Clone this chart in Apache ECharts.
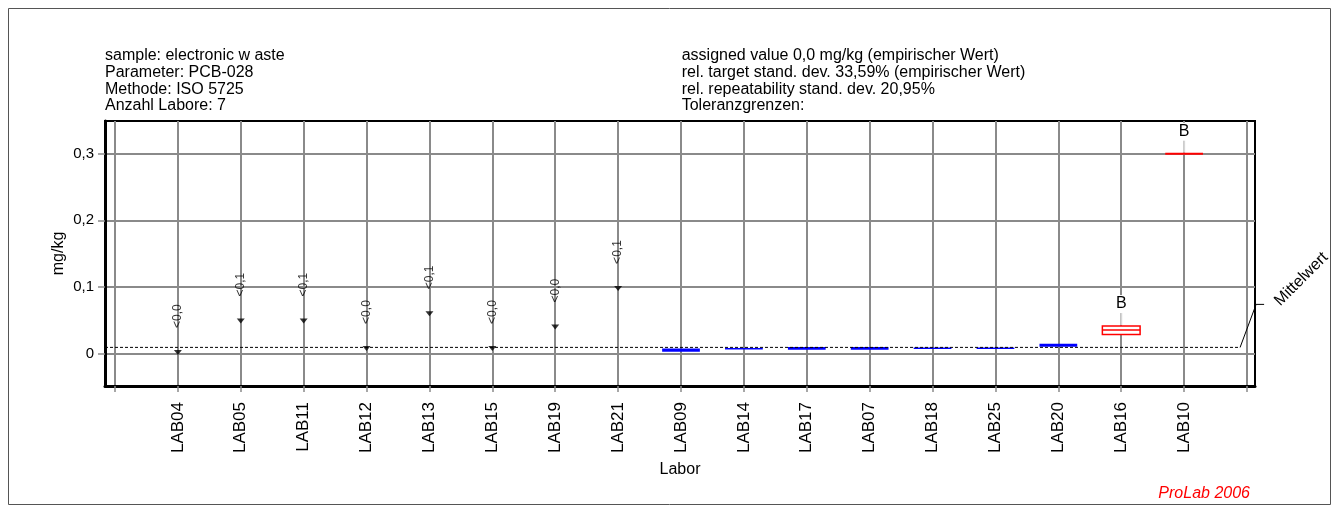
<!DOCTYPE html>
<html><head><meta charset="utf-8">
<script src="https://cdn.jsdelivr.net/npm/echarts@6/dist/echarts.min.js"></script>
<style>html,body{margin:0;padding:0;background:#fff}#c{width:1339px;height:513px}</style>
</head><body><div id="c"></div>
<script>
// ---- data ----
const labs = ['LAB04','LAB05','LAB11','LAB12','LAB13','LAB15','LAB19','LAB21','LAB09','LAB14','LAB17','LAB07','LAB18','LAB25','LAB20','LAB16','LAB10'];
// results below limit (first 8 labs)
const lodLabs = ['LAB04','LAB05','LAB11','LAB12','LAB13','LAB15','LAB19','LAB21'];
const lodValues = [0.002, 0.049, 0.049, 0.008, 0.060, 0.008, 0.040, 0.098];
const lodLabels = ['<0,0','<0,1','<0,1','<0,0','<0,1','<0,0','<0,0','<0,1'];
// box results
const boxLabs = ['LAB09','LAB14','LAB17','LAB07','LAB18','LAB25','LAB20','LAB16','LAB10'];
const boxLow  = [0.003, 0.007, 0.006, 0.006, 0.008, 0.008, 0.0105, 0.029, 0.300];
const boxHigh = [0.008, 0.0085, 0.010, 0.010, 0.0095, 0.0095, 0.015, 0.0415, 0.300];
const boxMid  = [0.0055, 0.0078, 0.008, 0.008, 0.0088, 0.0088, 0.0128, 0.0355, 0.300];
const boxOutlier = [0, 0, 0, 0, 0, 0, 0, 1, 1];
const boxFlags = ['', '', '', '', '', '', '', 'B', 'B'];
const meanValue = 0.0095;
const meanLabel = 'Mittelwert';
const yTicks = [0, 0.1, 0.2, 0.3];
const yTickLabels = ['0', '0,1', '0,2', '0,3'];
const headerLeft = ['sample: electronic w aste', 'Parameter: PCB-028', 'Methode: ISO 5725', 'Anzahl Labore: 7'];
const headerRight = ['assigned value 0,0 mg/kg (empirischer Wert)', 'rel. target stand. dev. 33,59% (empirischer Wert)', 'rel. repeatability stand. dev. 20,95%', 'Toleranzgrenzen:'];
const footer = 'ProLab 2006';

// ---- derived ----
const pos = name => labs.indexOf(name) + 1;
const xTickPos = [0].concat(labs.map((_, i) => i + 1), [labs.length + 1]);
const labPos = labs.map((_, i) => i + 1);
const FONT = '"Liberation Sans", Arial, sans-serif';
const GRID = '#8a8a8a';

const chart = echarts.init(document.getElementById('c'), null, {renderer: 'canvas'});

const boxData = boxLabs.map((l, i) => [pos(l), boxLow[i], boxHigh[i], boxMid[i], boxOutlier[i], i]);

const option = {
  animation: false,
  textStyle: {fontFamily: FONT},
  grid: {left: 105, right: 84, top: 121, bottom: 127, show: true, borderColor: '#000', borderWidth: 2, backgroundColor: 'transparent'},
  xAxis: {
    type: 'value', min: -0.159, max: 18.127,
    axisLine: {show: true, onZero: false, lineStyle: {color: '#000', width: 3}},
    axisTick: {show: true, customValues: xTickPos, length: 6, lineStyle: {color: GRID, width: 1.5}},
    splitLine: {show: true, lineStyle: {color: GRID, width: 2}},
    axisLabel: {customValues: labPos, formatter: v => labs[Math.round(v) - 1] || '', rotate: 90, fontSize: 17, color: '#000', margin: 16, fontFamily: FONT},
    name: 'Labor', nameLocation: 'middle', nameGap: 76, nameMoveOverlap: false,
    nameTextStyle: {fontSize: 16, color: '#000', fontFamily: FONT}
  },
  yAxis: {
    type: 'value', min: -0.0484, max: 0.349,
    axisLine: {show: true, onZero: false, lineStyle: {color: '#000', width: 3}},
    axisTick: {show: true, customValues: yTicks, length: 7, lineStyle: {color: GRID, width: 1.5}},
    splitLine: {show: true, lineStyle: {color: GRID, width: 2}},
    axisLabel: {customValues: yTicks, formatter: v => {
      const k = yTicks.findIndex(t => Math.abs(t - v) < 1e-9); return k >= 0 ? yTickLabels[k] : '';
    }, fontSize: 15, color: '#000', margin: 11, fontFamily: FONT},
    name: 'mg/kg', nameLocation: 'middle', nameRotate: 90, nameGap: 38, nameMoveOverlap: false,
    nameTextStyle: {fontSize: 16, color: '#000', fontFamily: FONT}
  },
  graphic: [
    {type: 'rect', silent: true, shape: {x: 8.5, y: 8.5, width: 1322, height: 496}, style: {fill: 'none', stroke: '#555', lineWidth: 1}, z: -10},
    {type: 'text', left: 105, top: 47.5, style: {text: headerLeft.join('\n'), font: '16px ' + FONT, lineHeight: 16.7, fill: '#000'}},
    {type: 'text', left: 681.7, top: 47.5, style: {text: headerRight.join('\n'), font: '16px ' + FONT, lineHeight: 16.7, fill: '#000'}},
    {type: 'text', right: 89, top: 486, style: {text: footer, font: 'italic 16px ' + FONT, fill: '#ff0000'}}
  ],
  series: [
    {
      type: 'custom', name: 'boxes', coordinateSystem: 'cartesian2d', clip: false, z: 3,
      data: boxData,
      renderItem: (params, api) => {
        const x = api.value(0), lo = api.value(1), hi = api.value(2), mid = api.value(3), out = api.value(4), idx = api.value(5);
        const pLo = api.coord([x, lo]), pHi = api.coord([x, hi]), pMid = api.coord([x, mid]);
        const w = api.size([0.6, 0])[0];
        const x0 = pLo[0] - w / 2;
        const children = [];
        if (!out) {
          children.push({type: 'rect', shape: {x: x0, y: pHi[1], width: w, height: Math.max(pLo[1] - pHi[1], 1.5)}, style: {fill: '#0000ff'}});
        } else {
          const top = pHi[1];
          const flag = boxFlags[idx];
          if (flag) {
            children.push({type: 'line', shape: {x1: pLo[0], y1: top - 1, x2: pLo[0], y2: top - 16}, style: {stroke: '#d6d6d6', lineWidth: 2}});
            children.push({type: 'text', style: {text: flag, x: pLo[0], y: top - 22, align: 'center', verticalAlign: 'middle', font: '16px ' + FONT, fill: '#000', backgroundColor: '#fff', padding: [1, 2]}});
          }
          if (pLo[1] - pHi[1] < 1) {
            children.push({type: 'line', shape: {x1: x0, y1: pMid[1], x2: x0 + w, y2: pMid[1]}, style: {stroke: '#ff0000', lineWidth: 2}});
          } else {
            children.push({type: 'rect', shape: {x: x0, y: pHi[1], width: w, height: pLo[1] - pHi[1]}, style: {fill: '#fff', stroke: '#ff0000', lineWidth: 1.5}});
            children.push({type: 'line', shape: {x1: x0, y1: pMid[1], x2: x0 + w, y2: pMid[1]}, style: {stroke: '#ff0000', lineWidth: 1.5}});
          }
        }
        return {type: 'group', children};
      }
    },
    {
      type: 'scatter', name: 'lod', z: 4,
      data: lodLabs.map((l, i) => [pos(l), lodValues[i]]),
      symbol: 'triangle', symbolRotate: 180, symbolSize: [8, 5],
      itemStyle: {color: '#000'},
      label: {show: true, formatter: p => lodLabels[p.dataIndex], position: 'top', distance: 22, rotate: 90,
        align: 'left', verticalAlign: 'middle', fontSize: 12, color: '#000', fontFamily: FONT}
    },
    {
      type: 'custom', name: 'mean', coordinateSystem: 'cartesian2d', clip: false, z: 5,
      data: [[17.89, meanValue]],
      renderItem: (params, api) => {
        const pe = api.coord([api.value(0), api.value(1)]);
        const left = params.coordSys.x;
        return {type: 'group', children: [
          {type: 'line', shape: {x1: left, y1: pe[1], x2: pe[0], y2: pe[1]}, style: {stroke: '#000', lineWidth: 1, lineDash: [3, 2]}},
          {type: 'polyline', shape: {points: [[pe[0], pe[1]], [pe[0] + 16, pe[1] - 43], [pe[0] + 24, pe[1] - 43]]}, style: {stroke: '#000', lineWidth: 1, fill: 'none'}},
          {type: 'text', x: pe[0] + 37, y: pe[1] - 44, rotation: Math.PI / 4, style: {text: meanLabel, x: 0, y: 0, align: 'left', verticalAlign: 'middle', font: '16px ' + FONT, fill: '#000'}}
        ]};
      }
    }
  ]
};
chart.setOption(option);
</script>
</body></html>
